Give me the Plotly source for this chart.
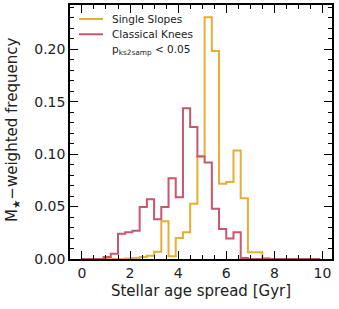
import numpy as np
import plotly.graph_objects as go

# Histogram bin edges (Gyr), width 0.3 from 0 to 9.9
bin_edges = [round(0.3 * i, 1) for i in range(34)]

# Mass-weighted frequencies per bin (33 bins)
single_slopes = [0, 0, 0, 0, 0, 0, 0.0005, 0.001, 0.002, 0.003, 0.007, 0.036,
                 0.0027, 0.020, 0.0255, 0.0527, 0.098, 0.2307, 0.1985, 0.0718,
                 0.0734, 0.1034, 0.058, 0.0065, 0.0065, 0.001, 0, 0, 0, 0, 0, 0, 0]
classical_knees = [0, 0, 0, 0.002, 0.005, 0.024, 0.0255, 0.027, 0.0496, 0.057,
                   0.038, 0.0496, 0.077, 0.059, 0.1437, 0.126, 0.0977, 0.092,
                   0.048, 0.0287, 0.0195, 0.0255, 0.001, 0, 0, 0, 0, 0, 0, 0, 0, 0, 0]

series_names = ["Single Slopes", "Classical Knees"]
colors = ["#e8ad36", "#c8566e"]
x_ticks = [0, 2, 4, 6, 8, 10]
y_ticks = [0.00, 0.05, 0.10, 0.15, 0.20]

FONT = "DejaVu Sans"


def step_xy(edges, counts):
    xs = [edges[0]] + list(edges)
    ys = [0] + list(counts) + [0]
    return xs, ys


fig = go.Figure()
for name, vals, col in zip(series_names, [single_slopes, classical_knees], colors):
    xs, ys = step_xy(bin_edges, vals)
    fig.add_trace(go.Scatter(x=xs, y=ys, mode="lines", name=name,
                             line=dict(color=col, width=2, shape="hv"),
                             showlegend=False, hoverinfo="skip"))

L, R, T, B = 70, 7, 5, 50
W, H = 339, 309
pw, ph = W - L - R, H - T - B


def px(xp):
    return (xp - L) / pw


def py(yp):
    return (H - B - yp) / ph


# manual legend
legend_rows = [19, 34.3]
for name, col, yy in zip(series_names, colors, legend_rows):
    fig.add_shape(type="line", xref="paper", yref="paper",
                  x0=px(79), x1=px(103), y0=py(yy), y1=py(yy),
                  line=dict(color=col, width=2))
    fig.add_annotation(xref="paper", yref="paper", x=px(110), y=py(yy),
                       text=name, showarrow=False, xanchor="left", yanchor="middle",
                       font=dict(family=FONT, size=10.5, color="#222"))
fig.add_annotation(xref="paper", yref="paper", x=px(110), y=py(50),
                   text="p<sub>ks2samp</sub> < 0.05", showarrow=False,
                   xanchor="left", yanchor="middle",
                   font=dict(family=FONT, size=10.5, color="#222"))

# y-axis title as rotated annotation
fig.add_annotation(xref="paper", yref="paper", x=px(12), y=py(130),
                   text="M<sub>★</sub>−weighted frequency", textangle=-90,
                   showarrow=False, xanchor="center", yanchor="middle",
                   font=dict(family=FONT, size=15, color="#222"))

axis_common = dict(showline=True, linecolor="black", linewidth=1.5, mirror="allticks",
                   ticks="inside", ticklen=8, tickwidth=1.3, tickcolor="black",
                   showgrid=False, zeroline=False, automargin=False,
                   tickfont=dict(family=FONT, size=14, color="#222"))

fig.update_xaxes(range=[-0.495, 10.395], tickvals=x_ticks,
                 minor=dict(dtick=0.5, tick0=0, ticks="inside", ticklen=4.5,
                            tickwidth=1.1, tickcolor="black", showgrid=False),
                 title=dict(text="Stellar age spread [Gyr]",
                            font=dict(family=FONT, size=15, color="#222"), standoff=6),
                 **axis_common)
fig.update_yaxes(range=[0, 0.2423], tickvals=y_ticks, tickformat=".2f",
                 minor=dict(dtick=0.01, tick0=0, ticks="inside", ticklen=4.5,
                            tickwidth=1.1, tickcolor="black", showgrid=False),
                 **axis_common)

fig.update_layout(width=W, height=H, margin=dict(l=L, r=R, t=T, b=B, pad=0),
                  plot_bgcolor="white", paper_bgcolor="white", showlegend=False)

fig.write_html("out.html", config={"displayModeBar": False},
               post_script="document.body.style.margin='0';document.body.style.overflow='hidden';")
